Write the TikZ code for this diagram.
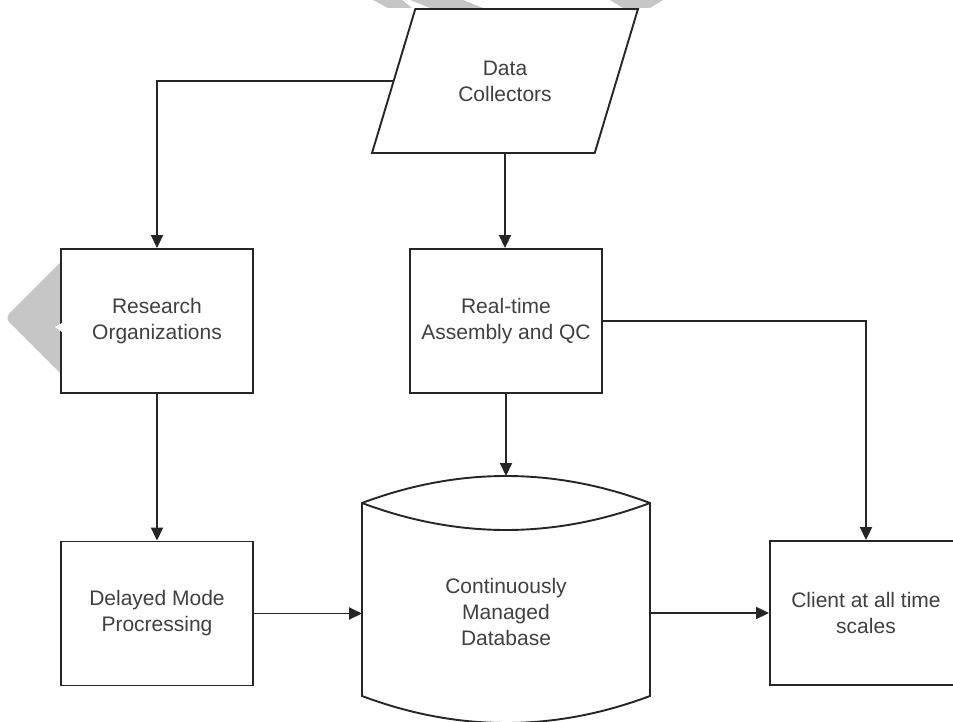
\documentclass[tikz,border=0pt]{standalone}
\usepackage{fontspec}
\setmainfont{Liberation Sans}
\usepackage{tikz}
\usetikzlibrary{arrows.meta, positioning, calc, shapes.geometric}

\begin{document}
\begin{tikzpicture}[
        x=1pt, y=1pt,
        >={Triangle[length=13pt, width=12pt]},
        flow/.style={line width=1.9pt, ->, black!85},
        outline/.style={line width=1.9pt, draw=black!85},
        process_box/.style={rectangle, outline, fill=white, minimum width=192, minimum height=144,
            align=center, text=black!75, font=\fontsize{21}{26}\selectfont},
        input_box/.style={trapezium, trapezium left angle=63, trapezium right angle=117,
            trapezium stretches=true, outline, fill=white, minimum width=266, minimum height=144,
            align=center, text=black!75, font=\fontsize{21}{26}\selectfont},
        store_text/.style={rectangle, minimum width=288, minimum height=193,
            align=center, text=black!75, font=\fontsize{21}{26}\selectfont},
        mark_shape/.style={fill=gray!45}
        ]
        \useasboundingbox (0,0) rectangle (953,721);
        \clip (0,0) rectangle (953,721);

        % Faint marks behind the diagram
        \fill[mark_shape] (373,721) -- (402,721) -- (412,713) -- (388,713) -- cycle;
        \fill[mark_shape] (410,721) -- (463,721) -- (483,713) -- (430,713) -- cycle;
        \fill[mark_shape] (610,721) -- (663,721) -- (650,713) -- (623,713) -- cycle;
        \fill[mark_shape, rounded corners=6pt] (72,470) -- (5,403) -- (72,336) -- cycle;

        % Boxes
        \node[input_box] (collectors) at (505,640) {Data\\Collectors};
        \node[process_box] (research) at (157,400) {Research\\Organizations};
        \node[process_box] (realtime) at (506,400) {Real-time\\Assembly and QC};
        \node[process_box] (delayed) at (157,107.5) {Delayed Mode\\Procressing};
        \node[process_box] (client) at (866,108) {Client at all time\\scales};
        \fill[white] (62,398) -- (55,394) -- (62,389) -- cycle;

        % Database
        \node[store_text] (db) at (506,109) {Continuously\\Managed\\Database};
        \coordinate (db_nw) at ($(db.center)+(-144,109)$);
        \coordinate (db_ne) at ($(db.center)+(144,109)$);
        \coordinate (db_sw) at ($(db.center)+(-144,-84)$);
        \coordinate (db_se) at ($(db.center)+(144,-84)$);
        \coordinate (db_top) at ($(db.center)+(0,136)$);
        \draw[outline] (db_nw) .. controls +(96,36) and +(-96,36) .. (db_ne)
            -- (db_se) .. controls +(-96,-36) and +(96,-36) .. (db_sw) -- cycle;
        \draw[outline] (db_nw) .. controls +(96,-36) and +(-96,-36) .. (db_ne);

        % Connectors
        \draw[flow] (collectors.west) -| (research.north);
        \draw[flow] (collectors.south) -- (collectors.south |- realtime.north);
        \draw[flow] (research.south) -- (delayed.north);
        \draw[flow] (realtime.south) -- (db_top);
        \draw[flow] (realtime.east) -| (client.north);
        \draw[flow] (delayed.east) -- (delayed.east -| db_sw);
        \draw[flow] (db_se |- client.west) -- (client.west);

    \end{tikzpicture}
\end{document}
